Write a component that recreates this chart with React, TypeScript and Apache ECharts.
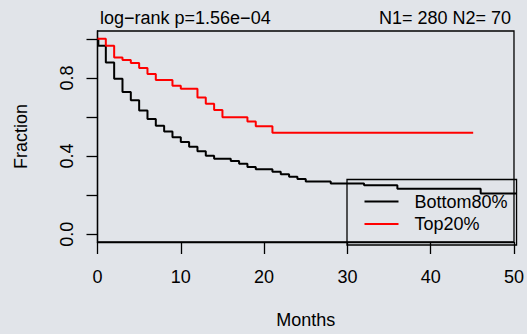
import React, { useEffect, useRef } from "react";
import * as echarts from "echarts";

const seriesNames = ["Bottom80%", "Top20%"];
// [month, survival fraction] change points (step curves)
const bottomCurve: [number, number][] = [
  [0, 1.0], [0.1, 0.965], [1, 0.879], [2, 0.795], [3, 0.728], [4, 0.685],
  [5, 0.633], [6, 0.589], [7, 0.555], [8, 0.525], [9, 0.496], [10, 0.472],
  [11, 0.447], [12, 0.424], [13, 0.402], [14, 0.386], [16, 0.375], [17, 0.361],
  [18, 0.344], [19, 0.332], [21, 0.319], [22, 0.307], [23, 0.294], [24, 0.282],
  [25, 0.27], [28, 0.26], [32, 0.25], [36, 0.233], [46, 0.208], [52, 0.208],
];
const topCurve: [number, number][] = [
  [0, 1.0], [1, 0.965], [2, 0.904], [3, 0.891], [4, 0.876], [5, 0.851],
  [6, 0.82], [7, 0.789], [9, 0.76], [10, 0.745], [12, 0.699], [13, 0.668],
  [14, 0.636], [15, 0.599], [18, 0.577], [19, 0.552], [21, 0.519], [45.1, 0.519],
];
const yTickValues = [0, 0.2, 0.4, 0.6, 0.8, 1.0];
const yLabelValues = [0, 0.4, 0.8];
const titleLeft = "log\u2212rank p=1.56e\u221204";
const titleRight = "N1= 280 N2= 70";

const FONT = "'Liberation Sans', Arial, Helvetica, sans-serif";
const BG = "#e1e4e9";

export default function App() {
  const ref = useRef<HTMLDivElement>(null);
  useEffect(() => {
    document.body.style.margin = "0";
    document.body.style.background = BG;
    const chart = echarts.init(ref.current!, null, { renderer: "svg" });
    const txt = { fontFamily: FONT, fontSize: 18, color: "#000" };
    chart.setOption({
      animation: false,
      backgroundColor: BG,
      textStyle: { fontFamily: FONT },
      title: [
        { text: titleLeft, left: 100, top: 9, padding: 0, textStyle: { ...txt, fontWeight: "normal" } },
        { text: titleRight, right: 16, top: 9, padding: 0, textStyle: { ...txt, fontWeight: "normal" } },
      ],
      legend: {
        data: seriesNames,
        orient: "vertical",
        left: 347,
        top: 179.5,
        padding: [13, 9, 12, 17.5],
        itemGap: 4.5,
        itemWidth: 34,
        itemHeight: 2,
        icon: "rect",
        borderColor: "#000",
        borderWidth: 1.3,
        borderRadius: 0,
        textStyle: { ...txt, padding: [0, 0, 0, 11] },
      },
      grid: {
        left: 97.5,
        right: 9.4,
        top: 31,
        bottom: 88.9,
        show: true,
        borderColor: "#000",
        borderWidth: 1.3,
        backgroundColor: "transparent",
      },
      xAxis: {
        type: "value",
        min: 0,
        max: 50,
        interval: 10,
        name: "Months",
        nameLocation: "middle",
        nameGap: 69,
        nameTextStyle: txt,
        axisLine: { show: true, onZero: false, lineStyle: { color: "#000", width: 1.3 } },
        axisTick: { show: true, length: 12, lineStyle: { color: "#000", width: 1.3 } },
        axisLabel: { ...txt, margin: 26 },
        splitLine: { show: false },
      },
      yAxis: {
        type: "value",
        min: -0.04,
        max: 1.04,
        name: "Fraction",
        nameLocation: "middle",
        nameGap: 68,
        nameTextStyle: txt,
        axisLine: { show: true, onZero: false, lineStyle: { color: "#000", width: 1.3 } },
        axisTick: { show: true, length: 11, customValues: yTickValues, lineStyle: { color: "#000", width: 1.3 } },
        axisLabel: {
          ...txt,
          rotate: 90,
          margin: 22,
          customValues: yLabelValues,
          formatter: (v: number) => v.toFixed(1),
        },
        splitLine: { show: false },
      },
      series: [
        {
          name: seriesNames[0],
          type: "line",
          step: "end",
          data: bottomCurve,
          symbol: "none",
          clip: false,
          lineStyle: { color: "#000", width: 2 },
          itemStyle: { color: "#000" },
        },
        {
          name: seriesNames[1],
          type: "line",
          step: "end",
          data: topCurve,
          symbol: "none",
          lineStyle: { color: "#ff0000", width: 2 },
          itemStyle: { color: "#ff0000" },
        },
      ],
    });
    return () => chart.dispose();
  }, []);
  return (
    <div
      ref={ref}
      style={{ position: "absolute", left: 0, top: 0, width: 527, height: 334 }}
    />
  );
}
